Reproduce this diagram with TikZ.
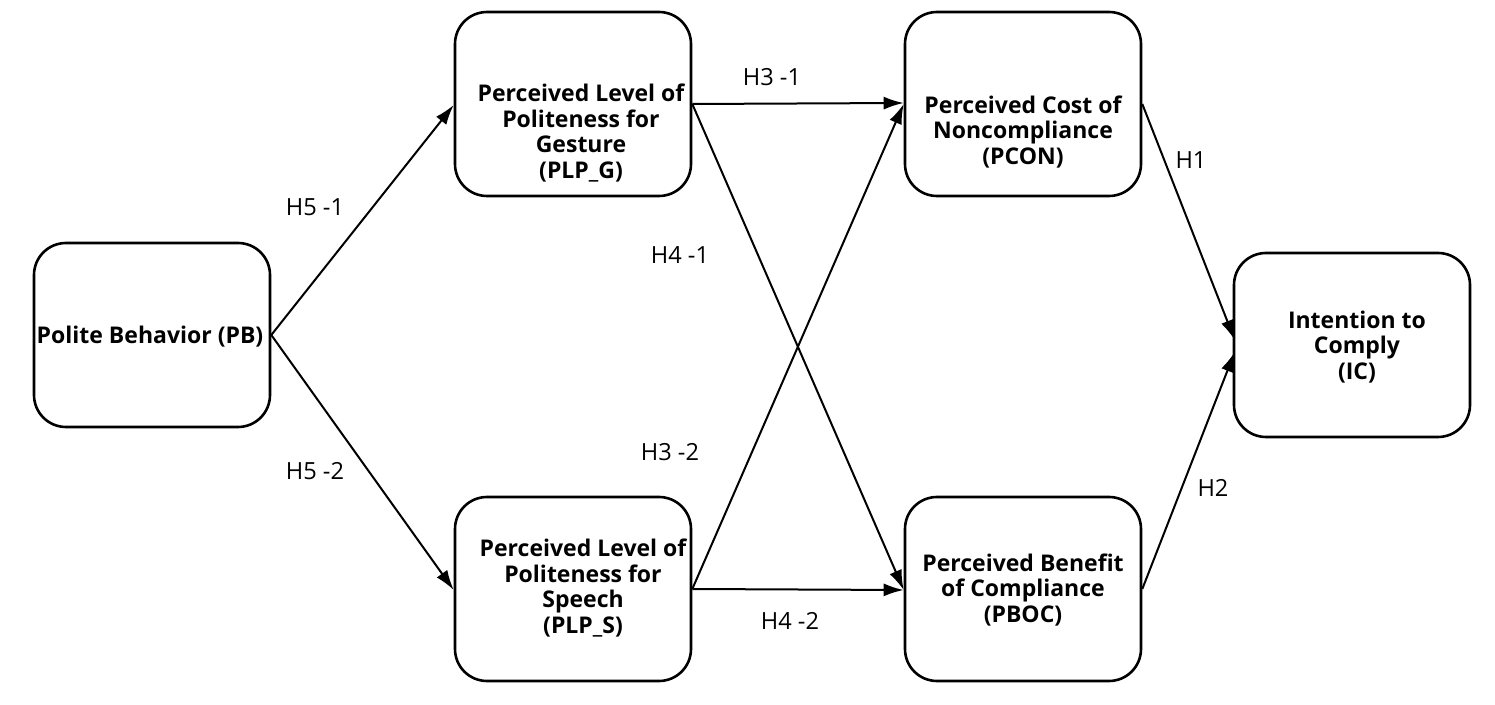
\documentclass[tikz,border=0pt]{standalone}
\usepackage{fontspec}
\setmainfont{Open Sans}
\usetikzlibrary{arrows.meta,calc}
\begin{document}
\begin{tikzpicture}[x=0.5pt,y=-0.5pt,
  box/.style={draw,line width=1.3pt,rounded corners=16pt,minimum width=118pt,minimum height=92pt,inner sep=0pt},
  ttl/.style={font=\bfseries\fontsize{11.5}{12.8}\selectfont,align=center,inner sep=0pt},
  lbl/.style={font=\fontsize{11.8}{13}\selectfont,inner sep=0pt},
  conn/.style={line width=1pt,-{Latex[length=10pt,width=6.5pt]}}]
\useasboundingbox (0,0) rectangle (1495,705);
\node[box] (pb) at (152,335) {};
\node[box] (plpg) at (573,104) {};
\node[box] (plps) at (573,589) {};
\node[box] (pcon) at (1023,104) {};
\node[box] (pboc) at (1023,589) {};
\node[box] (ic) at (1352,345) {};
\node[ttl] (tpb) at (150,337) {Polite Behavior (PB)};
\node[ttl] (tplpg) at (581,133) {Perceived Level of\\Politeness for\\Gesture\\(PLP\_G)};
\node[ttl] (tplps) at (583,588) {Perceived Level of\\Politeness for\\Speech\\(PLP\_S)};
\node[ttl] (tpcon) at (1023,132) {Perceived Cost of\\Noncompliance\\(PCON)};
\node[ttl] (tpboc) at (1023,590) {Perceived Benefit\\of Compliance\\(PBOC)};
\node[ttl] (tic) at (1357,347) {Intention to\\Comply\\(IC)};
\draw[conn] (pb.east) -- ($(plpg.west)+(0,1)$);
\draw[conn] (pb.east) -- ($(plps.west)+(0,1)$);
\draw[conn] (plpg.east) -- ($(pcon.west)+(0,-1)$);
\draw[conn] (plpg.east) -- ($(pboc.west)+(0,1)$);
\draw[conn] (plps.east) -- (pcon.west);
\draw[conn] (plps.east) -- ($(pboc.west)+(0,1)$);
\draw[conn] (pcon.east) -- ($(ic.west)+(2,-5)$);
\draw[conn] (pboc.east) -- ($(ic.west)+(2,7)$);
\node[lbl] (l1) at (772,77) {H3 -1};
\node[lbl] (l2) at (315,207) {H5 -1};
\node[lbl] (l3) at (680,255) {H4 -1};
\node[lbl] (l4) at (670,452) {H3 -2};
\node[lbl] (l5) at (315,471) {H5 -2};
\node[lbl] (l6) at (790,621) {H4 -2};
\node[lbl] (l7) at (1191,160) {H1};
\node[lbl] (l8) at (1213,488) {H2};
\end{tikzpicture}
\end{document}
